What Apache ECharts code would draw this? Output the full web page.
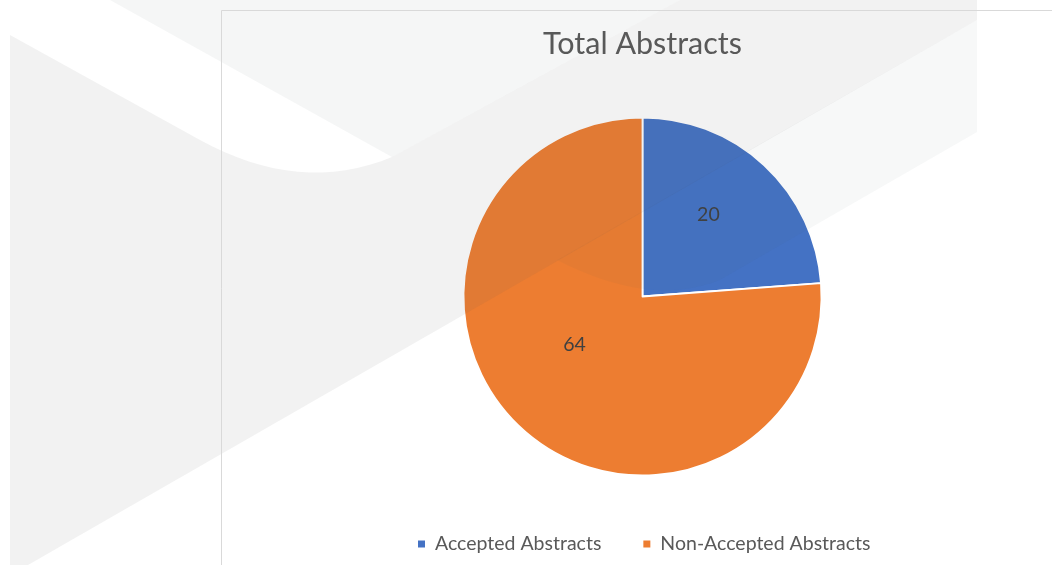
<!DOCTYPE html>
<html>
<head>
<meta charset="utf-8">
<script src="https://cdn.jsdelivr.net/npm/echarts@6/dist/echarts.min.js"></script>
<style>
html,body{margin:0;padding:0;background:#fff;}
#c{width:1052px;height:565px;}
</style>
</head>
<body>
<div id="c"></div>
<script>
const chartTitle = 'Total Abstracts';
const categories = ['Accepted Abstracts', 'Non-Accepted Abstracts'];
const values = [20, 64];

const sliceColors = ['#4472C4', '#ED7D31'];
const labelShift = [[3, -14], [-5, -20]];

function quadPts(p0, c, p1, n) {
  const out = [];
  for (let i = 0; i <= n; i++) {
    const t = i / n, u = 1 - t;
    out.push([u * u * p0[0] + 2 * u * t * c[0] + t * t * p1[0], u * u * p0[1] + 2 * u * t * c[1] + t * t * p1[1]]);
  }
  return out;
}
const bandShape = [[10, 35]].concat(quadPts([200, 140], [300, 195], [392, 157], 16),
  [[680, 0], [977, 0], [977, 20], [28, 565], [10, 565]]);
const stripeShape = [[977, 20], [977, 132], [720, 280]].concat(
  quadPts([720, 280], [650, 308], [557, 260], 16));

const chart = echarts.init(document.getElementById('c'), null, {renderer: 'canvas'});

const pieData = categories.map((name, i) => ({
  name: name,
  value: values[i],
  itemStyle: { color: sliceColors[i] }
}));

const option = {
  animation: false,
  backgroundColor: '#ffffff',
  title: {
    text: chartTitle,
    left: 642.5,
    top: 29,
    textAlign: 'center',
    padding: 0,
    textStyle: { fontFamily: 'Lato', fontSize: 30.5, fontWeight: 'normal', color: '#595959' }
  },
  legend: {
    data: categories,
    left: 416,
    top: 534,
    padding: 0,
    icon: 'rect',
    itemWidth: 9,
    itemHeight: 9,
    itemGap: 40,
    selectedMode: false,
    textStyle: { fontFamily: 'Lato', fontSize: 19.5, color: '#595959', padding: [0, 0, 0, 4] }
  },
  series: [{
    type: 'pie',
    center: [642.5, 296.5],
    radius: 179,
    startAngle: 90,
    clockwise: true,
    silent: true,
    data: pieData,
    itemStyle: { borderColor: '#ffffff', borderWidth: 1.8 },
    label: {
      show: true,
      position: 'inside',
      formatter: '{c}',
      fontFamily: 'Lato',
      fontSize: 19.5,
      color: '#404040'
    },
    labelLine: { show: false },
    labelLayout: function (p) {
      const s = labelShift[p.dataIndex];
      return { dx: s[0], dy: s[1] };
    }
  }],
  graphic: [
    {
      type: 'polygon', silent: true, z: 100,
      shape: { points: bandShape },
      style: { fill: 'rgba(90,90,90,0.08)' }
    },
    {
      type: 'polygon', silent: true, z: 100,
      shape: { points: [[110, 0], [392, 157], [680, 0]] },
      style: { fill: 'rgba(70,90,90,0.055)' }
    },
    {
      type: 'polygon', silent: true, z: 100,
      shape: { points: stripeShape },
      style: { fill: 'rgba(70,90,90,0.045)' }
    },
    {
      type: 'rect', silent: true, z: 101,
      shape: { x: 221.5, y: 10.5, width: 1000, height: 700 },
      style: { fill: 'none', stroke: '#D9D9D9', lineWidth: 1 }
    }
  ]
};
chart.setOption(option);
</script>
</body>
</html>
